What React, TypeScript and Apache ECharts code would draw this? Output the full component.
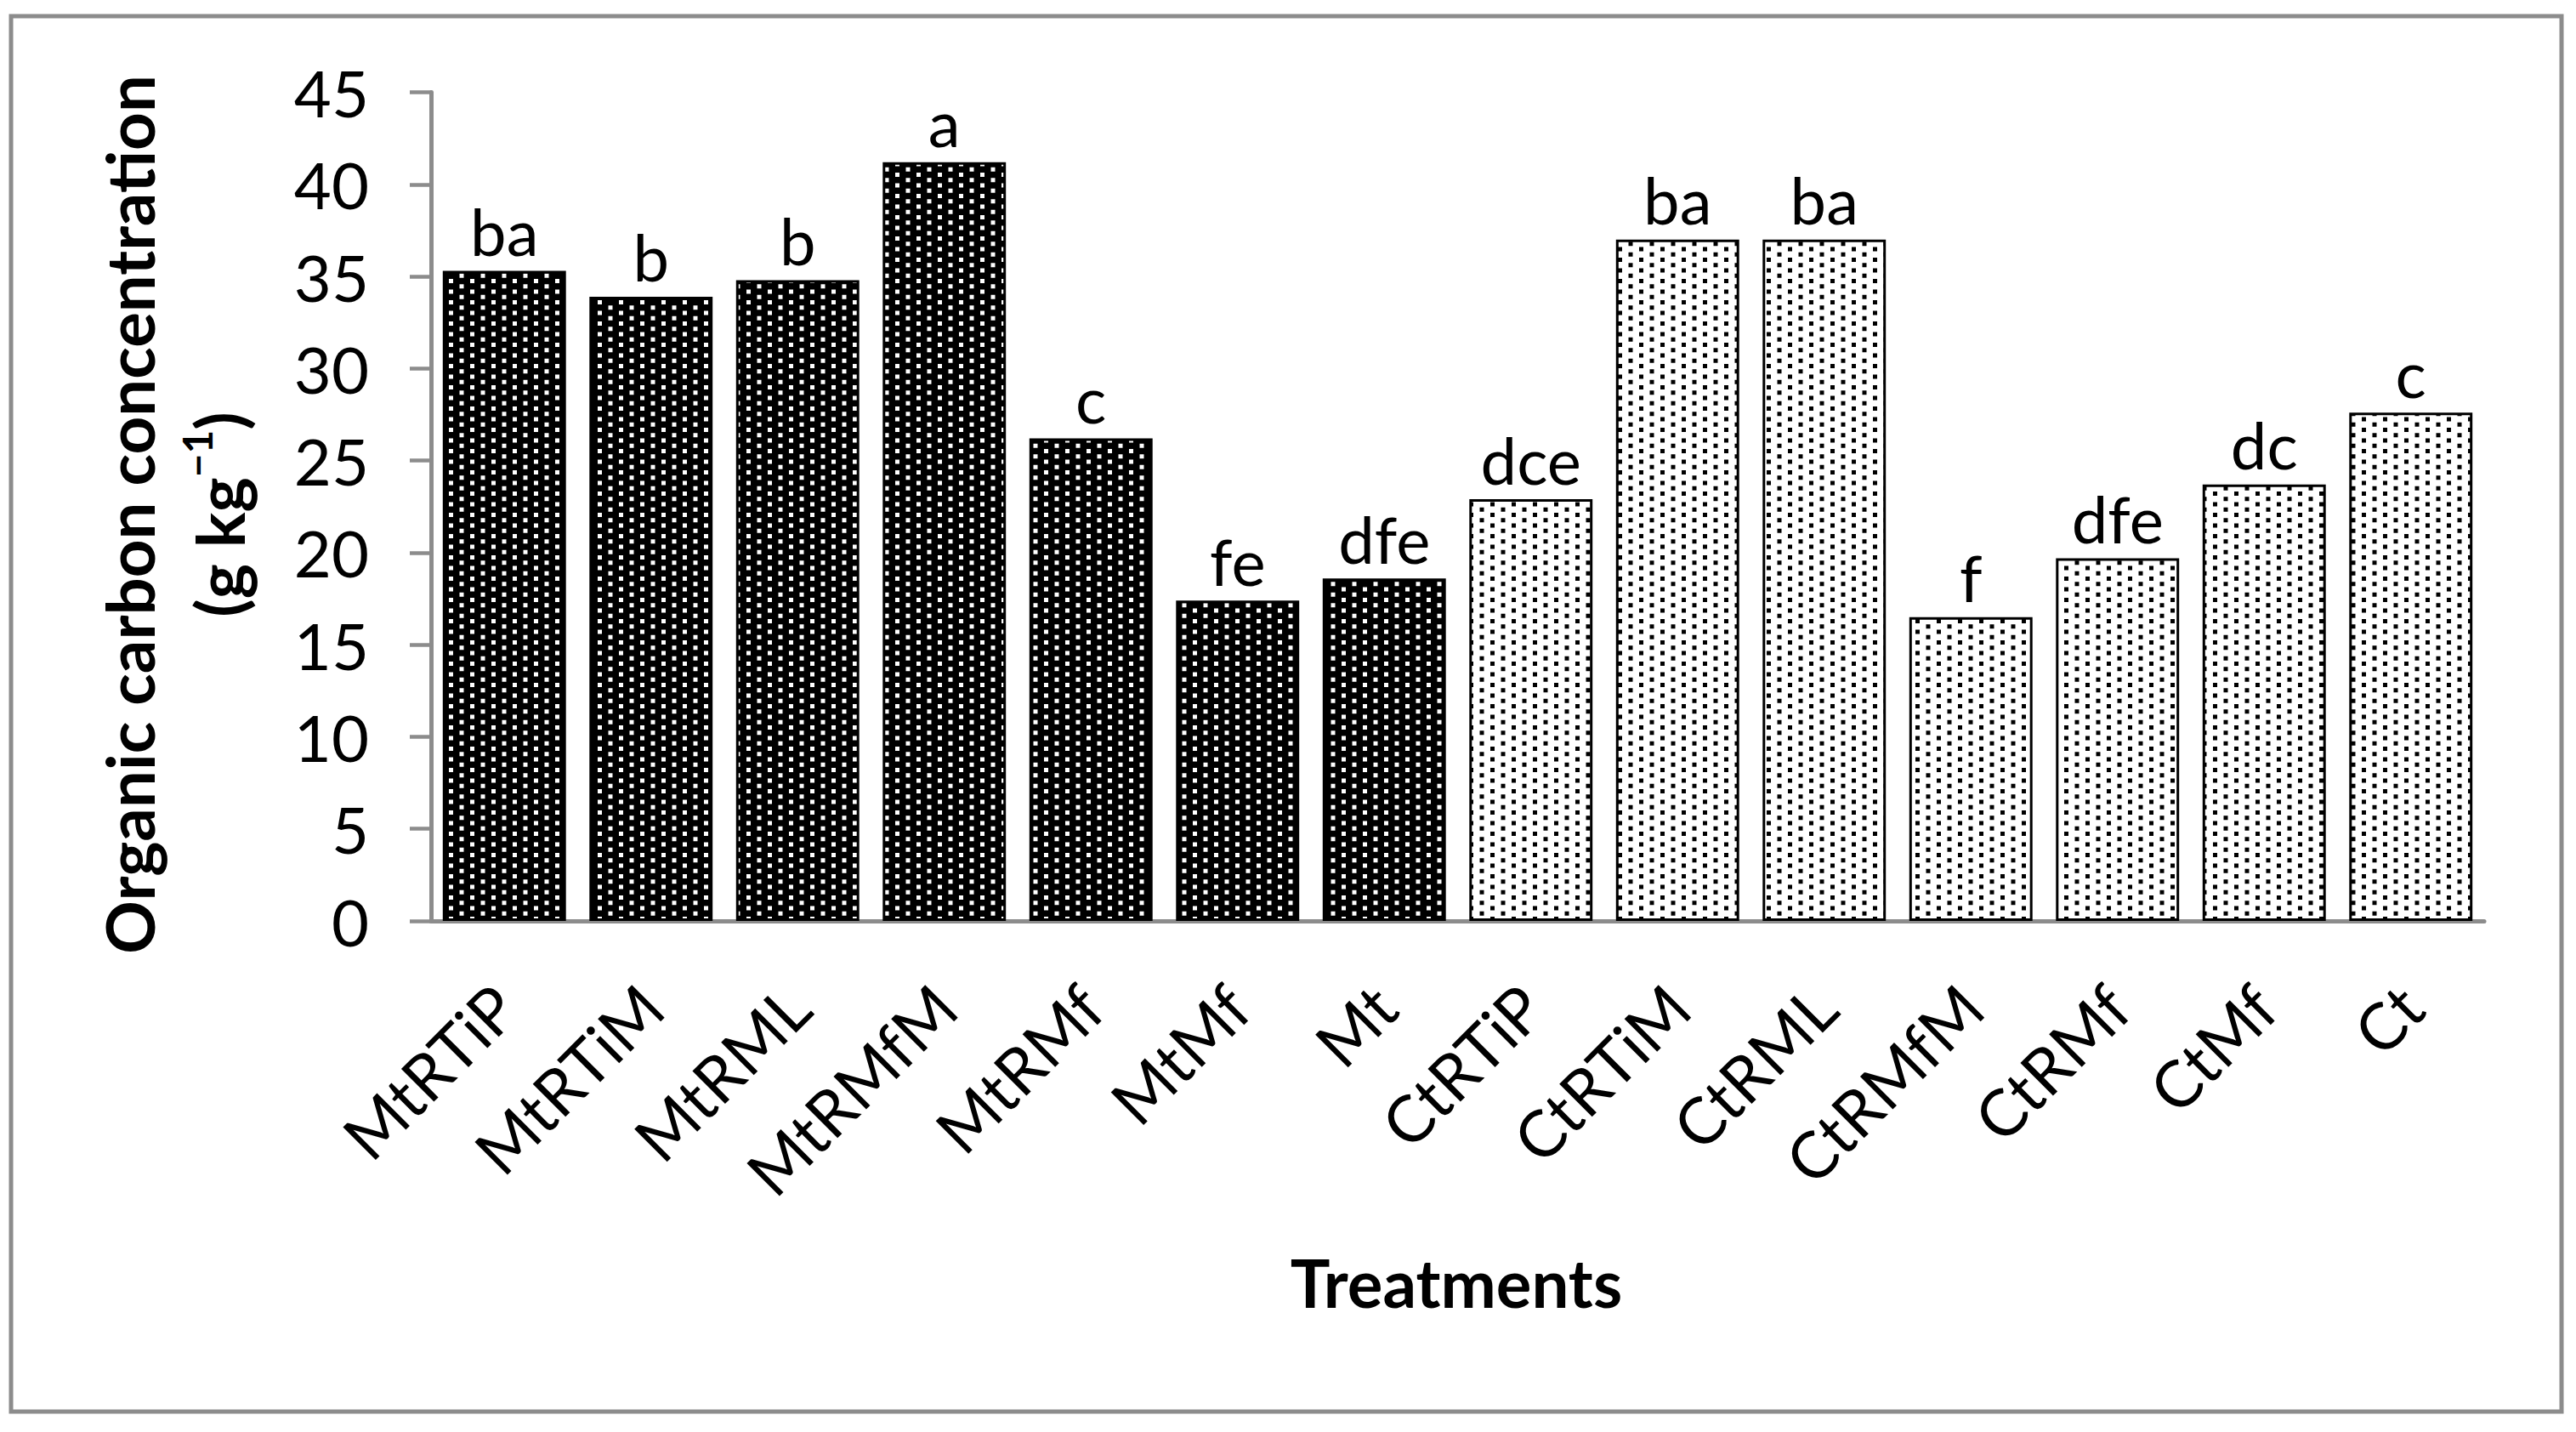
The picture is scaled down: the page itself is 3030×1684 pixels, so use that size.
import React, { useEffect, useRef } from "react";
import * as echarts from "echarts";

const categories = [
  "MtRTiP", "MtRTiM", "MtRML", "MtRMfM", "MtRMf", "MtMf", "Mt",
  "CtRTiP", "CtRTiM", "CtRML", "CtRMfM", "CtRMf", "CtMf", "Ct",
];
const carbonValues = [35.3, 33.9, 34.8, 41.2, 26.2, 17.4, 18.6, 22.9, 37.0, 37.0, 16.5, 19.7, 23.7, 27.6];
const significanceLetters = ["ba", "b", "b", "a", "c", "fe", "dfe", "dce", "ba", "ba", "f", "dfe", "dc", "c"];
const tillageGroup = ["Mt", "Mt", "Mt", "Mt", "Mt", "Mt", "Mt", "Ct", "Ct", "Ct", "Ct", "Ct", "Ct", "Ct"];
const yMin = 0;
const yMax = 45;
const yInterval = 5;

const FONT = "Lato, 'Open Sans', sans-serif";

function makeTile(bg: string, fg: string): string {
  const c = document.createElement("canvas");
  c.width = 25;
  c.height = 25;
  const ctx = c.getContext("2d")!;
  ctx.fillStyle = bg;
  ctx.fillRect(0, 0, 25, 25);
  ctx.fillStyle = fg;
  const s = 5;
  ctx.fillRect(3, 3, s, s);
  ctx.fillRect(3, 15.5, s, s);
  ctx.fillRect(15.5, 9.25, s, s);
  ctx.fillRect(15.5, 21.75, s, s);
  ctx.fillRect(15.5, -3.25, s, s);
  return c.toDataURL();
}

export default function App() {
  const ref = useRef<HTMLDivElement>(null);

  useEffect(() => {
    if (!ref.current) return;
    const chart = echarts.init(ref.current, null, { renderer: "svg" });

    const darkPattern = { image: makeTile("#000000", "#ffffff"), repeat: "repeat", imageWidth: 25, imageHeight: 25 };
    const lightPattern = { image: makeTile("#ffffff", "#000000"), repeat: "repeat", imageWidth: 25, imageHeight: 25 };

    const data = carbonValues.map((v, i) => ({
      value: v,
      itemStyle: {
        color: tillageGroup[i] === "Mt" ? darkPattern : lightPattern,
        borderColor: "#000000",
        borderWidth: 3,
      },
    }));

    const option: any = {
      animation: false,
      backgroundColor: "#ffffff",
      grid: {
        left: 507,
        right: 108,
        top: 108.5,
        bottom: 601,
        containLabel: false,
        outerBoundsMode: "none",
      },
      xAxis: {
        type: "category",
        data: categories,
        axisLine: { show: true, lineStyle: { color: "#8c8c8c", width: 5 } },
        axisTick: { show: false },
        axisLabel: {
          rotate: 45,
          interval: 0,
          margin: 88,
          padding: [34, 0, 0, 0],
          fontFamily: FONT,
          fontSize: 76,
          color: "#000000",
        },
        splitLine: { show: false },
      },
      yAxis: {
        type: "value",
        min: yMin,
        max: yMax,
        interval: yInterval,
        axisLine: { show: true, lineStyle: { color: "#8c8c8c", width: 5 } },
        axisTick: { show: true, inside: false, length: 25, lineStyle: { color: "#8c8c8c", width: 4.5 } },
        axisLabel: { margin: 73, fontFamily: FONT, fontSize: 76, color: "#000000" },
        splitLine: { show: false },
      },
      graphic: [
        {
          type: "rect",
          shape: { x: 13, y: 19, width: 3000, height: 1641 },
          style: { fill: "none", stroke: "#8c8c8c", lineWidth: 5 },
          z: 0,
        },
        {
          type: "text",
          x: 152,
          y: 605,
          rotation: Math.PI / 2,
          style: {
            text: "Organic carbon concentration",
            fontFamily: FONT,
            fontWeight: "bold",
            fontSize: 78,
            fill: "#000000",
            textAlign: "center",
            textVerticalAlign: "middle",
          },
        },
        {
          type: "text",
          x: 252,
          y: 605,
          rotation: Math.PI / 2,
          style: {
            text: "{n|(g kg}{s|\u22121}{n|)}",
            rich: {
              n: { fontFamily: FONT, fontWeight: "bold", fontSize: 78, fill: "#000000", lineHeight: 90, verticalAlign: "bottom" },
              s: { fontFamily: FONT, fontWeight: "bold", fontSize: 48, fill: "#000000", lineHeight: 90, verticalAlign: "top" },
            },
            textAlign: "center",
            textVerticalAlign: "middle",
          },
        },
        {
          type: "text",
          x: 1713,
          y: 1508,
          style: {
            text: "Treatments",
            fontFamily: FONT,
            fontWeight: "bold",
            fontSize: 78,
            fill: "#000000",
            textAlign: "center",
            textVerticalAlign: "middle",
          },
        },
      ],
      series: [
        {
          type: "bar",
          data,
          barCategoryGap: "16%",
          label: {
            show: true,
            position: "top",
            distance: 9,
            fontFamily: FONT,
            fontSize: 76,
            color: "#000000",
            formatter: (p: any) => significanceLetters[p.dataIndex],
          },
        },
      ],
    };

    chart.setOption(option);
    return () => chart.dispose();
  }, []);

  return (
    <div
      ref={ref}
      style={{ position: "absolute", left: 0, top: 0, width: 3030, height: 1684, background: "#ffffff" }}
    />
  );
}
